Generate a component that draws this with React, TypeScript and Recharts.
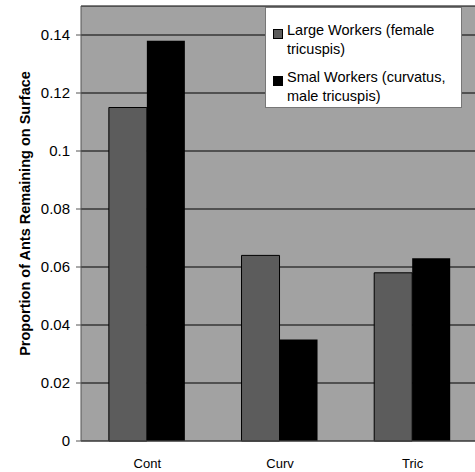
import { Bar, BarChart, CartesianGrid, XAxis, YAxis } from "recharts";

const categories = ["Cont", "Curv", "Tric"];
const largeWorkers = [0.115, 0.064, 0.058];
const smallWorkers = [0.138, 0.035, 0.063];
const yTicks = [0, 0.02, 0.04, 0.06, 0.08, 0.1, 0.12, 0.14];

const data = categories.map((name, i) => ({
  name,
  large: largeWorkers[i],
  small: smallWorkers[i],
}));

const FONT = "'Liberation Sans', Arial, sans-serif";

function LegendBox() {
  const item = (color: string, lines: string[]) => (
    <div style={{ display: "flex", alignItems: "flex-start", marginBottom: 9 }}>
      <span
        style={{
          display: "inline-block",
          width: 8,
          height: 8,
          marginTop: 8,
          marginRight: 4,
          background: color,
          border: "1px solid #000",
          flexShrink: 0,
        }}
      />
      <span style={{ lineHeight: "19px" }}>
        {lines.map((l) => (
          <div key={l}>{l}</div>
        ))}
      </span>
    </div>
  );
  return (
    <div
      style={{
        position: "absolute",
        left: 265,
        top: 7,
        background: "#fff",
        border: "1px solid #777",
        padding: "13px 4px 0 7px",
        fontFamily: FONT,
        fontSize: 14.5,
        color: "#000",
        boxSizing: "border-box",
        width: 197,
        height: 101,
        whiteSpace: "nowrap",
      }}
    >
      {item("#5c5c5c", ["Large Workers (female", "tricuspis)"])}
      {item("#000", ["Smal Workers (curvatus,", "male tricuspis)"])}
    </div>
  );
}

export default function App() {
  return (
    <div
      style={{
        position: "fixed",
        left: 0,
        top: 0,
        width: 475,
        height: 472,
        overflow: "hidden",
        background: "#fff",
      }}
    >
      <BarChart
        width={490}
        height={472}
        data={data}
        margin={{ top: 6, right: 11, bottom: 0, left: 0 }}
        barCategoryGap="21%"
        barGap={0}
      >
        <CartesianGrid
          vertical={false}
          stroke="#000"
          strokeDasharray=""
          fill="#a2a2a2"
          fillOpacity={1}
        />
        <XAxis
          dataKey="name"
          height={31}
          axisLine={{ stroke: "#555" }}
          tickLine={false}
          tick={{ fontSize: 13, fill: "#000", fontFamily: FONT, dy: 10 }}
        />
        <YAxis
          width={81}
          domain={[0, 0.15]}
          ticks={yTicks}
          interval={0}
          axisLine={{ stroke: "#555" }}
          tickLine={{ stroke: "#555" }}
          tickSize={5}
          tick={{ fontSize: 15, fill: "#000", fontFamily: FONT, dx: -4 }}
          label={{
            value: "Proportion of Ants Remaining on Surface",
            angle: -90,
            position: "insideLeft",
            dx: 20,
            dy: -10,
            style: {
              fontSize: 14.5,
              fontWeight: "bold",
              fill: "#000",
              fontFamily: FONT,
              textAnchor: "middle",
            },
          }}
        />
        <Bar
          dataKey="large"
          name="Large Workers (female tricuspis)"
          fill="#5c5c5c"
          stroke="#000"
          strokeWidth={1}
          isAnimationActive={false}
        />
        <Bar
          dataKey="small"
          name="Smal Workers (curvatus, male tricuspis)"
          fill="#000"
          isAnimationActive={false}
        />
      </BarChart>
      <LegendBox />
    </div>
  );
}
